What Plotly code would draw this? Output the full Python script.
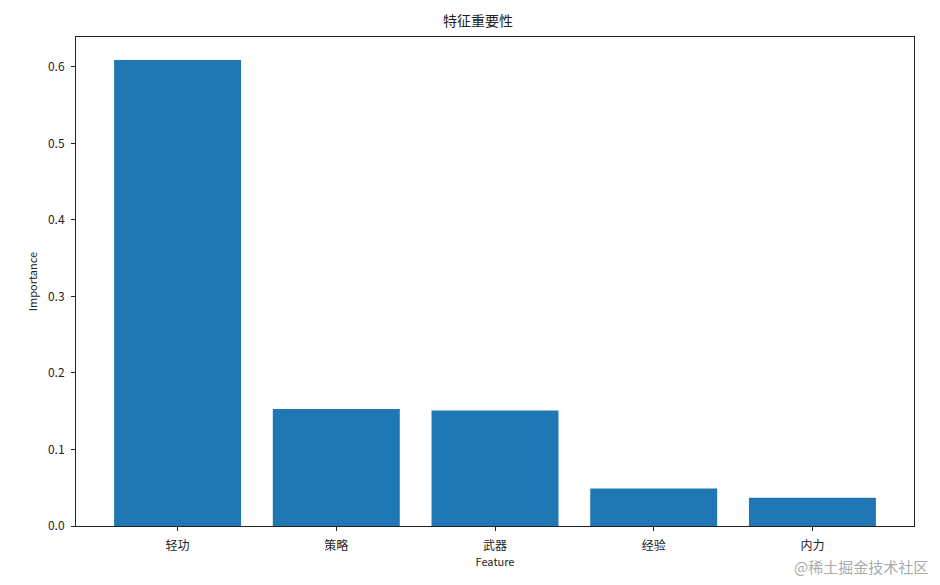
import plotly.graph_objects as go

features = ["轻功", "策略", "武器", "经验", "内力"]
importance = [0.609, 0.153, 0.151, 0.049, 0.037]
y_ticks = [0.0, 0.1, 0.2, 0.3, 0.4, 0.5, 0.6]
y_tick_labels = ["0.0", "0.1", "0.2", "0.3", "0.4", "0.5", "0.6"]

font_family = "Noto Sans CJK SC, DejaVu Sans, sans-serif"

fig = go.Figure()
fig.add_trace(go.Bar(
    x=list(range(len(features))),
    y=importance,
    width=0.8,
    marker=dict(color="#1f77b4", line=dict(width=0)),
))

# page body adds an 8px offset, so margins are shifted to compensate
fig.update_layout(
    width=940,
    height=585,
    margin=dict(l=68, r=34, t=29, b=67),
    paper_bgcolor="white",
    plot_bgcolor="white",
    showlegend=False,
    font=dict(family=font_family, size=12, color="#222"),
    title=dict(text="特征重要性", x=0.5, xanchor="center", y=1 - 13 / 585,
               yanchor="middle", font=dict(size=14, color="#222")),
    xaxis=dict(
        range=[-0.64, 4.64],
        tickvals=list(range(len(features))),
        ticktext=features,
        ticks="outside", ticklen=4, tickcolor="#222",
        ticklabelstandoff=5,
        showline=True, linecolor="#222", linewidth=1, mirror=True,
        showgrid=False, zeroline=False,
        title=dict(text="Feature", font=dict(size=11), standoff=2),
    ),
    yaxis=dict(
        range=[0, 0.639],
        tickvals=y_ticks,
        ticktext=y_tick_labels,
        ticks="outside", ticklen=4, tickcolor="#222",
        ticklabelstandoff=4,
        showline=True, linecolor="#222", linewidth=1, mirror=True,
        showgrid=False, zeroline=False,
        title=dict(text="Importance", font=dict(size=11), standoff=8),
    ),
    annotations=[dict(
        text="@稀土掘金技术社区", xref="paper", yref="paper",
        x=1.019, y=-0.082, xanchor="right", yanchor="middle", showarrow=False,
        font=dict(size=15, color="#aaa"),
    )],
)

fig.write_html("out.html")
